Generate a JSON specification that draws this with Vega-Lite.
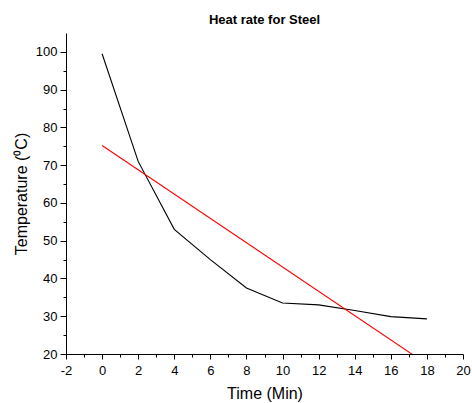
{
  "$schema": "https://vega.github.io/schema/vega-lite/v6.json",
  "width": 397,
  "height": 321,
  "autosize": "none",
  "padding": {"left": 66, "top": 33, "right": 9, "bottom": 49},
  "background": "white",
  "title": {"text": "Heat rate for Steel", "font": "Liberation Sans", "fontSize": 13, "fontWeight": "bold", "color": "black", "offset": 6},
  "config": {
    "view": {"stroke": null},
    "axis": {"grid": false, "domainColor": "black", "tickColor": "black", "labelColor": "black", "titleColor": "black", "labelFont": "Liberation Sans", "titleFont": "Liberation Sans", "labelFontSize": 13, "titleFontSize": 16, "titleFontWeight": "normal", "domainWidth": 1, "tickWidth": 1}
  },
  "datasets": {
    "measured": [
      {"time": 0, "temp": 99.5},
      {"time": 2, "temp": 71},
      {"time": 4, "temp": 53},
      {"time": 6, "temp": 45},
      {"time": 8, "temp": 37.5},
      {"time": 10, "temp": 33.5},
      {"time": 12, "temp": 33},
      {"time": 14, "temp": 31.5},
      {"time": 16, "temp": 29.9},
      {"time": 18, "temp": 29.3}
    ],
    "fit": [
      {"time": 0, "temp": 75.2},
      {"time": 18, "temp": 17.3}
    ]
  },
  "encoding": {
    "x": {"field": "time", "type": "quantitative", "scale": {"domain": [-2, 20], "nice": false, "zero": false},
      "axis": {"title": "Time (Min)", "values": [-2,-1,0,1,2,3,4,5,6,7,8,9,10,11,12,13,14,15,16,17,18,19,20], "labelExpr": "datum.value % 2 == 0 ? '' + datum.value : ''", "tickSize": {"condition": {"test": "datum.value % 2 != 0", "value": 3}, "value": 5}, "labelPadding": 5, "titlePadding": 8, "labelFlush": false, "labelOverlap": false}},
    "y": {"field": "temp", "type": "quantitative", "scale": {"domain": [20, 105], "nice": false, "zero": false},
      "axis": {"title": "Temperature (⁰C)", "values": [20,25,30,35,40,45,50,55,60,65,70,75,80,85,90,95,100], "labelExpr": "datum.value % 10 == 0 ? '' + datum.value : ''", "tickSize": {"condition": {"test": "datum.value % 10 != 0", "value": 3}, "value": 6}, "labelPadding": 3, "titlePadding": 6, "labelFlush": false, "labelOverlap": false}}
  },
  "layer": [
    {"data": {"name": "measured"}, "mark": {"type": "line", "color": "black", "strokeWidth": 1.1}},
    {"data": {"name": "fit"}, "mark": {"type": "line", "color": "#ff0000", "strokeWidth": 1.1, "clip": true}}
  ]
}
